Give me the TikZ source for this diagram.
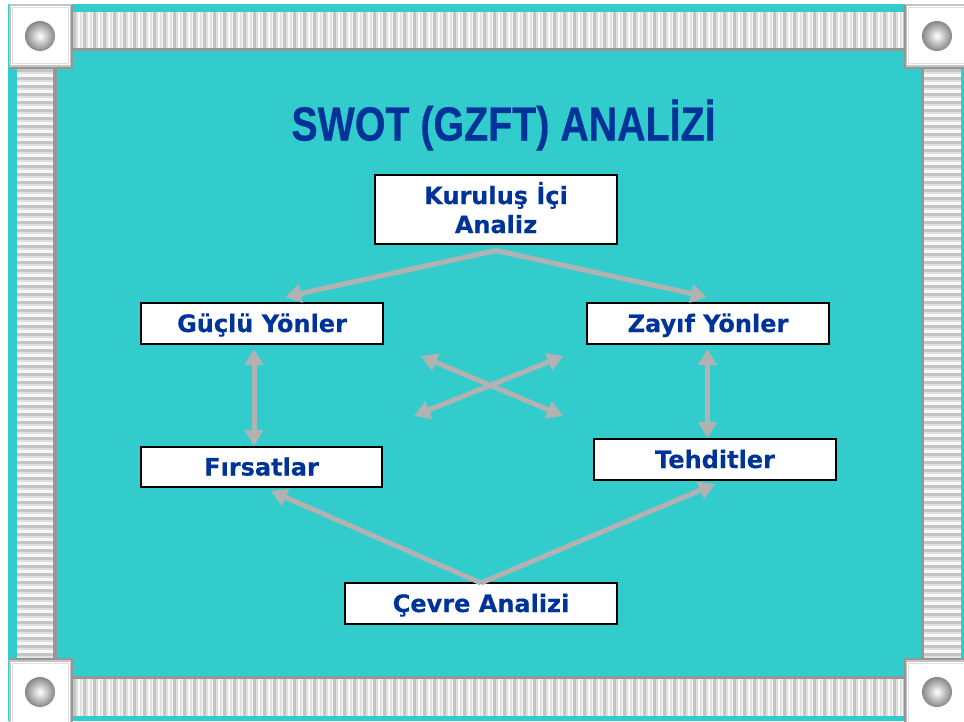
\documentclass[tikz,border=0pt]{standalone}
\usepackage{fontspec}
\setmainfont[BoldFeatures={FakeBold=0.35}]{DejaVu Sans}
\newfontfamily\titlefont[BoldFeatures={FakeBold=0.6}]{Liberation Sans}
\usetikzlibrary{arrows.meta}
\definecolor{teal}{HTML}{33CCCC}
\definecolor{navy}{HTML}{003399}
\definecolor{arrowgray}{HTML}{B2B2B2}
\definecolor{edgegray}{HTML}{969696}
\definecolor{stripegray}{HTML}{C4C4C4}
\definecolor{stripemid}{HTML}{E0E0E0}
\definecolor{stripelight}{HTML}{F8F8F8}
\tikzset{
  box/.style={draw=black,line width=1.8pt,fill=white,font=\bfseries\fontsize{24}{29}\selectfont,text=navy,align=center,inner sep=0pt},
  oneline/.style={box,text height=20pt,text depth=3pt},
  link/.style={draw=arrowgray,line width=5pt},
  single/.style={link,-{Triangle[length=16pt,width=18pt]}},
  double/.style={link,{Triangle[length=16pt,width=18pt]}-{Triangle[length=16pt,width=18pt]}},
  stripbase/.style={fill=stripelight,draw=none},
  stripeline/.style={draw=stripegray,line width=3pt},
  stripesoft/.style={draw=stripemid,line width=1.5pt},
  stripeedge/.style={fill=edgegray,draw=none},
  corner/.style={fill=white,draw=stripegray,line width=1.6pt},
  cornerin/.style={draw=stripemid,line width=1.2pt},
  cornershadow/.style={draw=edgegray,line width=2pt},
  knob/.style={circle,minimum size=30pt,inner sep=0pt,draw=none,shade,inner color=white,outer color=gray!95}
}
\begin{document}
\begin{tikzpicture}[x=1pt,y=-1pt]
\useasboundingbox (0,0) rectangle (964,721);
\fill[white] (0,0) rectangle (964,721);
\fill[teal] (8,4) rectangle (964,721);
% top strip
\fill[stripbase] (72,12) rectangle (905,48);
\foreach \i in {0,...,83} {
  \draw[stripeline] ({74+10*\i},12) -- ({74+10*\i},48);
  \draw[stripesoft] ({77+10*\i},12) -- ({77+10*\i},48);
  \draw[stripesoft] ({81+10*\i},12) -- ({81+10*\i},48);}
\fill[stripeedge] (72,48) rectangle (905,51);
% bottom strip
\fill[stripbase] (72,679) rectangle (905,716);
\foreach \i in {0,...,83} {
  \draw[stripeline] ({74+10*\i},679) -- ({74+10*\i},716);
  \draw[stripesoft] ({77+10*\i},679) -- ({77+10*\i},716);
  \draw[stripesoft] ({81+10*\i},679) -- ({81+10*\i},716);}
\fill[stripeedge] (72,675.5) rectangle (905,679);
% left strip
\fill[stripbase] (17,67) rectangle (53,660);
\foreach \i in {0,...,74} {
  \draw[stripeline] (17,{70+8*\i}) -- (53,{70+8*\i});
  \draw[stripesoft] (17,{73+8*\i}) -- (53,{73+8*\i});}
\fill[stripeedge] (53,67) rectangle (57,660);
% right strip
\fill[stripeedge] (920.5,67) rectangle (924,660);
\fill[stripbase] (924,67) rectangle (961,660);
\foreach \i in {0,...,74} {
  \draw[stripeline] (924,{70+8*\i}) -- (961,{70+8*\i});
  \draw[stripesoft] (924,{73+8*\i}) -- (961,{73+8*\i});}
% corners
\draw[corner] (10,5) rectangle (71,66);
\draw[cornerin] (12.5,7.5) rectangle (68.5,63.5);
\draw[cornershadow] (72,5) -- (72,68) -- (10,68);
\draw[corner] (906,5) rectangle (966,66);
\draw[cornerin] (908.5,7.5) rectangle (966,63.5);
\draw[cornershadow] (905,5) -- (905,68) -- (966,68);
\draw[corner] (10,661) rectangle (71,724);
\draw[cornerin] (12.5,663.5) rectangle (68.5,724);
\draw[cornershadow] (10,659) -- (72,659) -- (72,724);
\draw[corner] (906,661) rectangle (966,724);
\draw[cornerin] (908.5,663.5) rectangle (966,724);
\draw[cornershadow] (966,659) -- (905,659) -- (905,724);
\node[knob] (k1) at (40,36) {};
\node[knob] (k2) at (937,36) {};
\node[knob] (k3) at (40,692) {};
\node[knob] (k4) at (937,692) {};
% title
\node[font=\titlefont\bfseries\fontsize{48}{48}\selectfont,text=navy,xscale=.82,inner sep=0pt] (title) at (503.5,125) {SWOT (GZFT) ANALİZİ};
% boxes
\node[box,minimum width=242pt,minimum height=69pt] (ic) at (496,209.5) {Kuruluş İçi\\Analiz\\[-25pt]\mbox{}};
\node[oneline,minimum width=242pt,minimum height=41pt] (guclu) at (262,323.5) {Güçlü Yönler};
\node[oneline,minimum width=242pt,minimum height=41pt] (zayif) at (708,323.5) {Zayıf Yönler};
\node[oneline,minimum width=241pt,minimum height=40pt] (firsat) at (261.5,467) {Fırsatlar};
\node[oneline,minimum width=242pt,minimum height=41pt] (tehdit) at (715,459.5) {Tehditler};
\node[oneline,minimum width=272pt,minimum height=41pt] (cevre) at (481,603.5) {Çevre Analizi};
% free ends
\coordinate (topapex) at (496,250.5);
\coordinate (botapex) at (481,583);
\coordinate (gt) at (285,297);
\coordinate (zt) at (707,297);
\coordinate (fb) at (271,491);
\coordinate (tb) at (715,484);
\coordinate (g1) at (254,349);
\coordinate (f1) at (254,446);
\coordinate (z1) at (707.5,349);
\coordinate (t1) at (707.5,438);
\coordinate (x1) at (421,356);
\coordinate (x2) at (563,416);
\coordinate (x3) at (563.5,356);
\coordinate (x4) at (414,416);
% connectors
\draw[single] (topapex) -- (gt);
\draw[single] (topapex) -- (zt);
\draw[single] (botapex) -- (fb);
\draw[single] (botapex) -- (tb);
\draw[double] (g1) -- (f1);
\draw[double] (z1) -- (t1);
\draw[double] (x1) -- (x2);
\draw[double] (x3) -- (x4);
\end{tikzpicture}
\end{document}
